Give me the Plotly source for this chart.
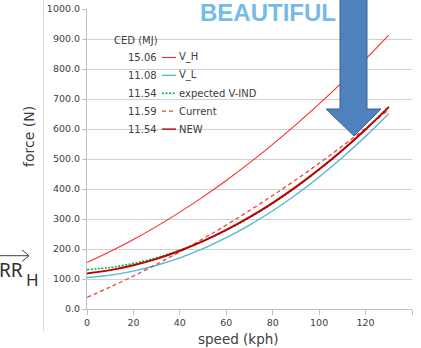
import plotly.graph_objects as go

# ---- data ----
speed = [0, 10, 20, 30, 40, 50, 60, 70, 80, 90, 100, 110, 120, 130]
v_h = [155.0, 191.5, 231.6, 275.4, 322.8, 373.9, 428.5, 486.9, 548.8, 614.4, 683.6, 756.5, 833.0, 913.0]
v_l = [105.0, 112.9, 126.4, 145.7, 170.6, 201.3, 237.6, 279.7, 327.4, 380.9, 440.0, 504.9, 575.4, 651.7]
expected = [131.0, 138.7, 152.1, 171.2, 196.0, 226.5, 262.6, 304.5, 352.0, 405.2, 464.1, 528.7, 598.9, 675.1]
current = [38.7, 73.3, 110.1, 149.2, 190.5, 234.2, 280.0, 328.1, 378.5, 431.0, 485.9, 543.0, 602.3, 664.0]
new = [118.7, 129.6, 145.8, 167.2, 194.0, 226.1, 263.4, 306.1, 353.9, 407.2, 465.7, 529.5, 598.6, 673.0]

series_names = ["V_H", "V_L", "expected V-IND", "Current", "NEW"]
ced_values = ["15.06", "11.08", "11.54", "11.59", "11.54"]

W, H = 421, 348
L, R, T, B = 87, 9, 9, 39
PW, PH = W - L - R, H - T - B


def px(x):
    return (x - L) / PW


def py(y):
    return (H - B - y) / PH


styles = [
    dict(color="#ff2a2a", width=1.1, dash="solid"),
    dict(color="#5ab4d2", width=1.4, dash="solid"),
    dict(color="#00b050", width=1.6, dash="2px,1.5px"),
    dict(color="#e8413c", width=1.3, dash="4px,3px"),
    dict(color="#c00000", width=2.0, dash="solid"),
]
data = [v_h, v_l, expected, current, new]

fig = go.Figure()
for name, ys, st in zip(series_names, data, styles):
    fig.add_trace(go.Scatter(x=speed, y=ys, mode="lines", name=name,
                             line=dict(shape="spline", **st), showlegend=False,
                             hoverinfo="skip"))

txt = "#404040"
tick_font = dict(family="DejaVu Sans", size=9.5, color=txt)

fig.update_layout(
    width=W, height=H,
    margin=dict(l=L, r=R, t=T, b=B, pad=0),
    paper_bgcolor="white", plot_bgcolor="white",
    xaxis=dict(range=[0, 140], dtick=20, showgrid=False, zeroline=False,
               showline=True, linecolor="#bfbfbf", linewidth=1,
               ticks="outside", ticklen=5, tickcolor="#bfbfbf",
               tickfont=tick_font, automargin=False),
    yaxis=dict(range=[0, 1000], dtick=100, tickformat=".1f", showgrid=True,
               gridcolor="#d0d0d0", gridwidth=1, zeroline=False,
               showline=True, linecolor="#bfbfbf", linewidth=1,
               ticks="outside", ticklen=4, tickcolor="#bfbfbf",
               tickfont=tick_font, automargin=False),
)

ann = []
shapes = []

# axis titles
ann.append(dict(text="force (N)", x=px(29), y=py(137), xref="paper", yref="paper",
                textangle=-90, showarrow=False, xanchor="center", yanchor="middle",
                font=dict(family="DejaVu Sans", size=14, color=txt)))
ann.append(dict(text="speed (kph)", x=px(238), y=py(339), xref="paper", yref="paper",
                showarrow=False, xanchor="center", yanchor="middle",
                font=dict(family="DejaVu Sans", size=13.5, color=txt)))

# custom legend block
lf = dict(family="DejaVu Sans", size=10, color=txt)
ann.append(dict(text="CED (MJ)", x=px(111.5), y=py(40), xref="paper", yref="paper",
                showarrow=False, xanchor="left", yanchor="middle", font=lf))
for i, (name, val, st) in enumerate(zip(series_names, ced_values, styles)):
    yy = 57.5 + 17.9 * i
    ann.append(dict(text=val, x=px(158.5), y=py(yy), xref="paper", yref="paper",
                    showarrow=False, xanchor="right", yanchor="middle", font=lf))
    ann.append(dict(text=name, x=px(176.5), y=py(yy), xref="paper", yref="paper",
                    showarrow=False, xanchor="left", yanchor="middle", font=lf))
    shapes.append(dict(type="line", xref="paper", yref="paper",
                       x0=px(162), x1=px(176), y0=py(yy), y1=py(yy),
                       line=dict(color=st["color"], width=min(st["width"], 1.4),
                                 dash=st["dash"])))

# chart-area border at left
shapes.append(dict(type="line", xref="paper", yref="paper",
                   x0=px(43.5), x1=px(43.5), y0=py(0), y1=py(331),
                   line=dict(color="#d9d9d9", width=1)))

# RR_H with arrow
shapes.append(dict(type="line", xref="paper", yref="paper",
                   x0=px(0), x1=px(29), y0=py(255.7), y1=py(255.7),
                   line=dict(color=txt, width=1)))
shapes.append(dict(type="path", xref="paper", yref="paper",
                   path=f"M {px(22)},{py(250)} L {px(29)},{py(255.7)} L {px(22)},{py(261.5)}",
                   line=dict(color=txt, width=1)))
ann.append(dict(text="RR", x=px(24.5), y=py(269.5), xref="paper", yref="paper",
                showarrow=False, xanchor="right", yanchor="middle",
                font=dict(family="Noto Sans", size=19, color="#303030")))
ann.append(dict(text="H", x=px(23.5), y=py(279), xref="paper", yref="paper",
                showarrow=False, xanchor="left", yanchor="middle",
                font=dict(family="Noto Sans", size=17, color="#303030")))

# BEAUTIFUL decoration
ann.append(dict(text="<b>BEAUTIFUL</b>", x=px(268), y=py(12.5), xref="paper", yref="paper",
                showarrow=False, xanchor="center", yanchor="middle",
                font=dict(family="Liberation Sans", size=24, color="#74bbea")))

# big blue arrow
arrow_pts = [(340, -2), (367, -2), (367, 109), (381, 109), (354, 136), (326, 109), (340, 109)]
path = "M " + " L ".join(f"{px(a)},{py(b)}" for a, b in arrow_pts) + " Z"
shapes.append(dict(type="path", xref="paper", yref="paper", path=path,
                   fillcolor="#4f81bd", line=dict(color="#3a6494", width=1)))

fig.update_layout(annotations=ann, shapes=shapes)
fig.write_html("out.html", config={"displayModeBar": False},
               post_script="document.body.style.margin='0';document.body.style.padding='0';document.body.style.overflow='hidden';")
